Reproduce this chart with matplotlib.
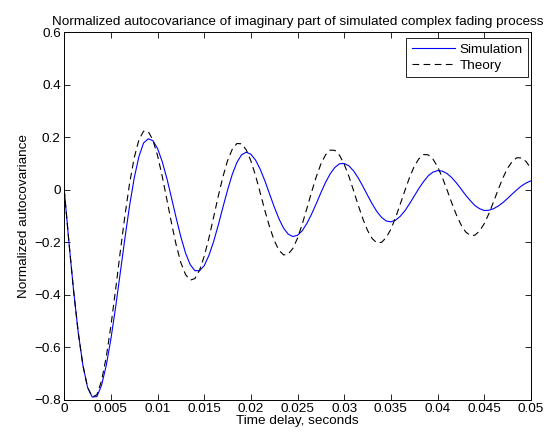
import numpy as np
import matplotlib
matplotlib.use("Agg")
import matplotlib.pyplot as plt

plt.rcParams['font.family'] = ['Liberation Sans', 'DejaVu Sans']

# time delay grid (seconds), step 0.5 ms
t_start, t_stop, t_step = 0.0, 0.05, 0.0005

theory = [
    0.000, -0.198, -0.383, -0.543, -0.668, -0.752, -0.789, -0.780, -0.727, -0.637,
    -0.518, -0.381, -0.237, -0.099, 0.024, 0.122, 0.190, 0.223, 0.222, 0.189,
    0.130, 0.051, -0.038, -0.128, -0.211, -0.278, -0.323, -0.344, -0.338, -0.306,
    -0.253, -0.184, -0.105, -0.025, 0.049, 0.111, 0.154, 0.176, 0.175, 0.152,
    0.110, 0.054, -0.012, -0.079, -0.141, -0.193, -0.230, -0.248, -0.245, -0.223,
    -0.184, -0.131, -0.071, -0.009, 0.049, 0.098, 0.133, 0.151, 0.150, 0.131,
    0.097, 0.051, -0.003, -0.059, -0.111, -0.155, -0.186, -0.202, -0.200, -0.182,
    -0.150, -0.106, -0.055, -0.003, 0.047, 0.089, 0.118, 0.134, 0.133, 0.117,
    0.088, 0.048, 0.001, -0.048, -0.094, -0.132, -0.160, -0.174, -0.173, -0.157,
    -0.129, -0.091, -0.046, 0.001, 0.045, 0.082, 0.108, 0.122, 0.121, 0.107,
    0.081,
]

simulation = [
    0.000, -0.198, -0.383, -0.543, -0.668, -0.752, -0.789, -0.787, -0.744, -0.669,
    -0.568, -0.448, -0.317, -0.185, -0.061, 0.045, 0.126, 0.178, 0.194, 0.187,
    0.157, 0.107, 0.043, -0.032, -0.108, -0.180, -0.241, -0.285, -0.308, -0.308,
    -0.289, -0.250, -0.198, -0.135, -0.067, -0.001, 0.058, 0.104, 0.133, 0.143,
    0.135, 0.113, 0.078, 0.034, -0.016, -0.065, -0.110, -0.146, -0.169, -0.178,
    -0.173, -0.156, -0.128, -0.093, -0.053, -0.011, 0.028, 0.061, 0.085, 0.099,
    0.100, 0.091, 0.072, 0.045, 0.013, -0.021, -0.054, -0.083, -0.105, -0.119,
    -0.122, -0.116, -0.101, -0.080, -0.053, -0.024, 0.005, 0.031, 0.053, 0.067,
    0.073, 0.071, 0.062, 0.047, 0.027, 0.004, -0.020, -0.041, -0.060, -0.072,
    -0.079, -0.078, -0.072, -0.062, -0.049, -0.033, -0.016, 0.000, 0.015, 0.026,
    0.034,
]

x_ticks = [0, 0.005, 0.01, 0.015, 0.02, 0.025, 0.03, 0.035, 0.04, 0.045, 0.05]
x_labels = ['0', '0.005', '0.01', '0.015', '0.02', '0.025', '0.03', '0.035',
            '0.04', '0.045', '0.05']
y_ticks = [-0.8, -0.6, -0.4, -0.2, 0, 0.2, 0.4, 0.6]
y_labels = ['\u22120.8', '\u22120.6', '\u22120.4', '\u22120.2', '0', '0.2', '0.4', '0.6']

fs = 9.7
tau = np.arange(len(theory)) * t_step + t_start

fig = plt.figure(figsize=(5.49, 4.40), dpi=100)
ax = fig.add_axes([0.117, 0.091, 0.850, 0.836])

ax.plot(tau, simulation, color=(0, 0, 1), linewidth=0.8, label='Simulation')
ax.plot(tau, theory, color='black', linewidth=0.8, dashes=(6, 4), label='Theory')

ax.set_xlim(t_start, t_stop)
ax.set_ylim(-0.8, 0.6)
ax.set_xticks(x_ticks)
ax.set_xticklabels(x_labels)
ax.set_yticks(y_ticks)
ax.set_yticklabels(y_labels)
ax.tick_params(direction='in', top=True, right=True, length=4.5, width=0.6,
               labelsize=fs, pad=2.5)
for spine in ax.spines.values():
    spine.set_linewidth(0.7)

ax.set_xlabel('Time delay, seconds', fontsize=fs, labelpad=0)
ax.set_ylabel('Normalized autocovariance', fontsize=fs, labelpad=3)
ax.set_title('Normalized autocovariance of imaginary part of simulated complex fading process',
             fontsize=fs, pad=5)

leg = ax.legend(loc='upper right', bbox_to_anchor=(0.994, 0.984), fontsize=fs,
                fancybox=False, framealpha=1, edgecolor='black',
                handlelength=3.2, borderaxespad=0, handletextpad=0.35,
                labelspacing=0.25, borderpad=0.4)
leg.get_frame().set_linewidth(0.6)

fig.savefig('out.png', dpi=100)
